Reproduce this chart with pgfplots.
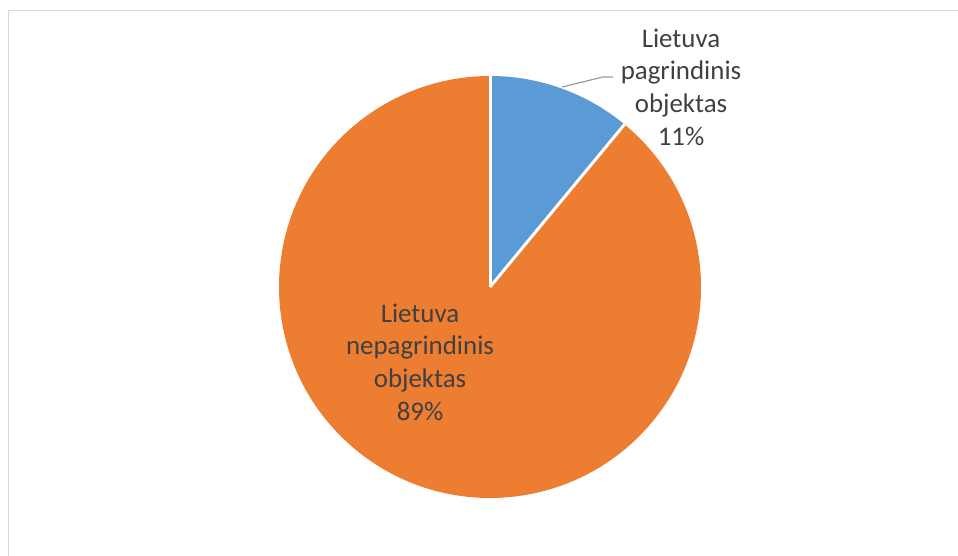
\documentclass[border=0pt]{standalone}
\usepackage{pgfplots}
\pgfplotsset{compat=1.18}
\usepackage{fontspec}
\setmainfont{Carlito}
\definecolor{pieblue}{HTML}{5B9BD5}
\definecolor{pieorange}{HTML}{ED7D31}
\definecolor{txt}{HTML}{404040}
\definecolor{frame}{HTML}{D9D9D9}
\begin{document}
\begin{tikzpicture}
\begin{axis}[
  width=958bp, height=556bp, scale only axis,
  xmin=0, xmax=958, ymin=0, ymax=556,
  hide axis, clip=false,
]
% slices: values in percent (Lietuva pagrindinis objektas 11, nepagrindinis 89)
\def\cx{490}\def\cy{269}\def\R{211bp}
\fill[pieblue] (axis cs:\cx,\cy) -- ++(90:\R) arc[start angle=90, end angle=50.4, radius=\R] -- cycle;
\fill[pieorange] (axis cs:\cx,\cy) -- ++(50.4:\R) arc[start angle=50.4, end angle=-270, radius=\R] -- cycle;
\draw[white, line width=3bp] (axis cs:\cx,\cy) -- ++(90:\R);
\draw[white, line width=3bp] (axis cs:\cx,\cy) -- ++(50.4:\R);
% leader line
\draw[gray!80, line width=1.2bp] (axis cs:562,469) -- (axis cs:603,479) -- (axis cs:613,479);
\node[align=center, text=txt, font=\fontsize{27}{32.7}\selectfont, inner sep=0pt]
  at (axis cs:681,469) {Lietuva\\pagrindinis\\objektas\\11\%};
\node[align=center, text=txt, font=\fontsize{27}{32.7}\selectfont, inner sep=0pt]
  at (axis cs:420,194) {Lietuva\\nepagrindinis\\objektas\\89\%};
% chart frame
\draw[frame, line width=1.5bp] (axis cs:8.5,0) -- (axis cs:8.5,545.5) -- (axis cs:958,545.5);
\end{axis}
\pgfresetboundingbox
\path (0,0) rectangle (958bp,556bp);
\end{tikzpicture}
\end{document}
